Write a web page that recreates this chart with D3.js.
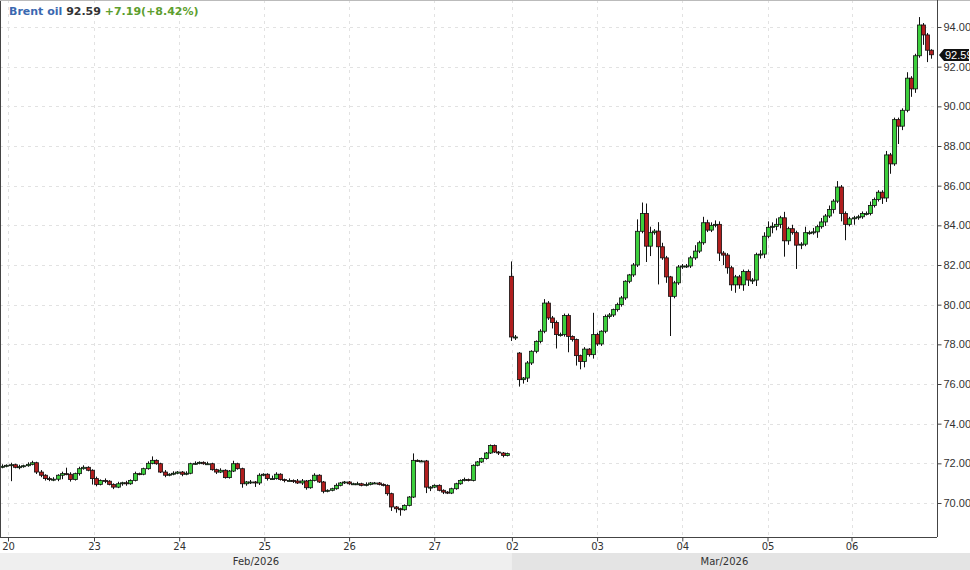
<!DOCTYPE html>
<html><head><meta charset="utf-8">
<script src="https://cdn.jsdelivr.net/npm/d3@7"></script>
<style>body{margin:0;background:#fff}svg{display:block;font-family:"DejaVu Sans",sans-serif}</style>
</head><body><svg id="c" width="970" height="570"></svg>
<script>
const closes=[71.85,71.9,71.93,71.8,71.83,71.88,71.95,72.03,71.56,71.4,71.23,71.2,71.2,71.4,71.48,71.45,71.18,71.48,71.73,71.8,
71.65,71.23,70.94,71.14,71.1,70.94,70.8,70.97,71.02,70.97,71.14,71.48,71.45,71.73,72.0,72.15,71.98,71.56,71.4,71.45,
71.5,71.56,71.45,71.5,71.98,72.0,72.05,71.98,71.98,71.68,71.56,71.65,71.28,71.61,71.98,71.73,70.97,71.06,71.06,71.01,
71.4,71.45,71.23,71.23,71.45,71.18,71.14,71.14,71.11,71.01,71.11,70.77,71.14,71.4,71.06,70.59,70.64,70.72,70.89,71.01,
71.06,70.97,70.97,70.97,70.89,70.94,71.01,71.01,70.94,70.89,70.47,69.8,69.71,69.66,69.88,70.3,72.15,72.12,72.12,70.8,
70.8,70.89,70.64,70.55,70.5,70.72,70.97,71.14,71.18,71.14,71.9,72.07,72.24,72.52,72.9,72.57,72.52,72.4,72.49,78.37,
78.37,76.22,76.3,77.06,77.65,78.15,78.66,80.08,79.33,79.1,78.49,78.49,79.45,78.4,78.24,77.43,77.14,77.76,77.48,78.49,
78.02,78.66,79.4,79.48,79.75,80.0,80.34,81.18,81.5,82.0,83.7,84.6,82.95,83.63,83.71,82.92,82.36,81.4,80.42,81.1,
81.9,81.95,81.95,82.36,82.7,83.12,84.13,83.76,84.0,84.05,82.6,82.5,81.86,81.0,81.4,81.0,81.67,81.24,81.24,82.52,
82.55,83.45,83.9,83.95,84.05,84.38,83.22,83.83,83.63,83.0,83.05,83.63,83.63,83.67,83.93,84.17,84.47,84.8,85.22,85.93,
84.6,84.05,84.33,84.38,84.43,84.6,84.6,85.0,85.3,85.67,85.38,87.55,87.1,89.33,89.0,89.8,91.42,90.88,92.55,94.1,
93.6,92.83,92.6];
const gapOpens=[[119,81.43],[121,77.56]];
const wickUp=[.1,.05,.1,.05,.1,.05,.1,.1,.05,.1,.05,.1,.1,.05,.1,.3,.1,.05,.1,.1,
.05,.05,.1,.05,.1,.05,.05,.1,.05,.1,.05,.1,.05,.05,.1,.2,.05,.05,.1,.05,
.1,.05,.05,.1,.05,.1,.05,.05,.1,.05,.05,.1,.05,.05,.15,.05,.05,.05,.1,.05,
.1,.05,.05,.15,.1,.05,.05,.1,.05,.1,.1,.05,.05,.1,.05,.05,.05,.05,.1,.05,
.05,.05,.05,.1,.05,.1,.05,.05,.05,.05,.05,.05,.05,.05,.05,.05,.35,.05,.05,.05,
.05,.05,.05,.05,.05,.05,.05,.05,.1,.05,.05,.05,.05,.05,.05,.05,.05,.05,.05,.75,
.1,.05,.05,.1,.05,.05,.1,.2,.1,.1,.1,.1,.1,.1,.05,.05,.05,.1,.05,1.1,
.1,.05,.1,.1,.05,.1,.1,.05,.05,.1,.6,.55,.5,.3,.1,.45,.2,.1,.05,.1,
.1,.1,.1,.1,.3,.1,.3,.15,.15,.2,.15,.1,.1,.1,.1,.1,.1,.1,.1,.1,
.2,.2,.3,.2,.3,.1,.3,.1,.2,.1,.1,.3,.1,.2,.1,.2,.1,.2,.1,.3,
.1,.1,.1,.1,.1,.1,.1,.2,.1,.1,.1,.2,.1,.1,.1,.1,.3,.1,.1,.4,
.1,.1,.05];
const wickDn=[.1,.05,.8,.05,.1,.05,.05,.05,.1,.1,.1,.1,.1,.1,.2,.05,.1,.05,.1,.05,
.05,.3,.1,.05,.1,.05,.1,.05,.1,.1,.05,.05,.05,.05,.05,.05,.05,.05,.1,.05,
.05,.05,.1,.05,.05,.05,.05,.05,.05,.05,.1,.05,.05,.05,.05,.05,.2,.1,.1,.2,
.1,.05,.1,.05,.05,.05,.1,.05,.1,.05,.1,.1,.05,.05,.05,.1,.05,.05,.05,.05,
.05,.05,.05,.05,.05,.05,.05,.05,.05,.05,.1,.2,.2,.3,.05,.05,.05,.05,.05,.3,
.2,.05,.05,.1,.05,.05,.05,.05,.05,.05,.05,.05,.05,.05,.05,.05,.1,.1,.05,.2,
.15,.35,.2,.2,.1,.1,.1,.1,.1,.3,.7,.1,.1,.8,.1,.5,.4,.3,.1,.2,
.1,.1,.1,.1,.1,.1,.1,.1,.1,.1,.1,.1,.8,.5,.1,1.9,.1,.3,2.0,.1,
.1,.1,.1,.1,.1,.1,.1,.1,.1,.1,.4,.5,.3,.3,.4,.2,.3,.3,.2,.3,
.2,.2,.1,.3,.2,.2,.8,.2,.1,1.2,.2,.1,.1,.1,.3,.1,.2,.1,.2,.1,
.4,.8,.1,.3,.1,.1,.1,.1,.1,.1,.3,.2,.5,.1,.9,.2,.1,.4,.2,.1,
.5,.6,.2];
const dayLabels=["20","23","24","25","26","27","02","03","04","05","06"];
const dayIdx=[1.4,21.5,41.4,61.3,81.1,101,119.2,140.1,161,181.9,202.5];
const yTicks=[70,72,74,76,78,80,82,84,86,88,90,92,94];
const months=[{name:"Feb/2026",from:-0.5,to:119.2},{name:"Mar/2026",from:119.2,to:223}];
const lastPrice=92.59;

const svg=d3.select("#c");
const W=937,H=537;
const x=d3.scaleLinear().domain([0,118,222]).range([2,507,931]);
const y=d3.scaleLinear().domain([70,94]).range([503,27]);
const data=closes.map((c,i)=>{
  let o=i>0?closes[i-1]:c;
  const g=gapOpens.find(d=>d[0]===i); if(g)o=g[1];
  return {i,o,c,h:Math.max(o,c)+wickUp[i],l:Math.min(o,c)-wickDn[i]};
});
svg.append("g").selectAll("line").data(yTicks).join("line")
 .attr("x1",0).attr("x2",W).attr("y1",d=>Math.round(y(d))+.5).attr("y2",d=>Math.round(y(d))+.5)
 .attr("stroke","#e2e2e2").attr("stroke-dasharray","3,4");
svg.append("g").selectAll("line").data(dayIdx).join("line")
 .attr("y1",0).attr("y2",H).attr("x1",d=>Math.round(x(d))+.5).attr("x2",d=>Math.round(x(d))+.5)
 .attr("stroke","#e2e2e2").attr("stroke-dasharray","3,4");
const cg=svg.append("g");
cg.selectAll("line").data(data).join("line")
 .attr("x1",d=>Math.round(x(d.i))+.5).attr("x2",d=>Math.round(x(d.i))+.5)
 .attr("y1",d=>y(d.h)).attr("y2",d=>y(d.l)).attr("stroke","#111");
cg.selectAll("rect").data(data).join("rect")
 .attr("x",d=>Math.round(x(d.i))-1.5).attr("width",4)
 .attr("y",d=>Math.min(y(d.o),y(d.c))).attr("height",d=>Math.max(1,Math.abs(y(d.o)-y(d.c))))
 .attr("fill",d=>d.c>=d.o?"#3ccf3c":"#b01e1e").attr("stroke","#111").attr("stroke-width",0.8);
svg.append("line").attr("x1",.5).attr("x2",.5).attr("y1",0).attr("y2",H).attr("stroke","#444");
svg.append("line").attr("x1",0).attr("x2",970).attr("y1",.5).attr("y2",.5).attr("stroke","#bbb");
const ya=svg.append("g").attr("transform",`translate(${W+.5},0)`)
 .call(d3.axisRight(y).tickValues(yTicks).tickSize(4).tickPadding(2).tickFormat(d3.format(".2f")));
ya.select(".domain").attr("stroke","#444").attr("d",`M0,0V${H}`);
ya.selectAll("text").attr("font-size",11).attr("fill","#333").attr("font-family","Liberation Sans");
ya.selectAll(".tick line").attr("stroke","#444");
const xa=svg.append("g").attr("transform",`translate(0,${H+.5})`)
 .call(d3.axisBottom(x).tickValues(dayIdx).tickSize(4).tickFormat((d,k)=>dayLabels[k]));
xa.select(".domain").attr("stroke","#444").attr("d",`M0,0H${W}`);
xa.selectAll("text").attr("font-size",10).attr("fill","#333").attr("font-family","DejaVu Sans").attr("dy","0.55em");
xa.selectAll(".tick line").attr("stroke","#444");
const mb=svg.append("g");
mb.selectAll("rect").data(months).join("rect")
 .attr("x",d=>Math.max(0,x(d.from))).attr("width",(d,k)=>k?970-x(d.from):x(d.to)-Math.max(0,x(d.from)))
 .attr("y",553).attr("height",17).attr("fill",(d,k)=>k?"#e4e4e4":"#efefef");
mb.selectAll("text").data(months).join("text")
 .attr("x",(d,k)=>k?(x(d.from)+W)/2:x(d.to)/2).attr("y",565).attr("text-anchor","middle")
 .attr("font-size",10).attr("fill","#333").text(d=>d.name);
const ty=y(lastPrice);
svg.append("path").attr("d",`M${W+2},${ty} L${W+7},${ty-6} H969 V${ty+6} H${W+7} Z`).attr("fill","#111");
svg.append("text").attr("x",W+8).attr("y",ty+4).attr("font-size",11).attr("font-family","Liberation Sans").attr("fill","#fff").text(lastPrice.toFixed(2));
const t=svg.append("text").attr("x",9).attr("y",15).attr("font-size",11).attr("font-weight","bold");
t.append("tspan").attr("fill","#3a68b0").text("Brent oil ");
t.append("tspan").attr("fill","#333").text("92.59 ");
t.append("tspan").attr("fill","#5d9e2e").text("+7.19(+8.42%)");
</script></body></html>
